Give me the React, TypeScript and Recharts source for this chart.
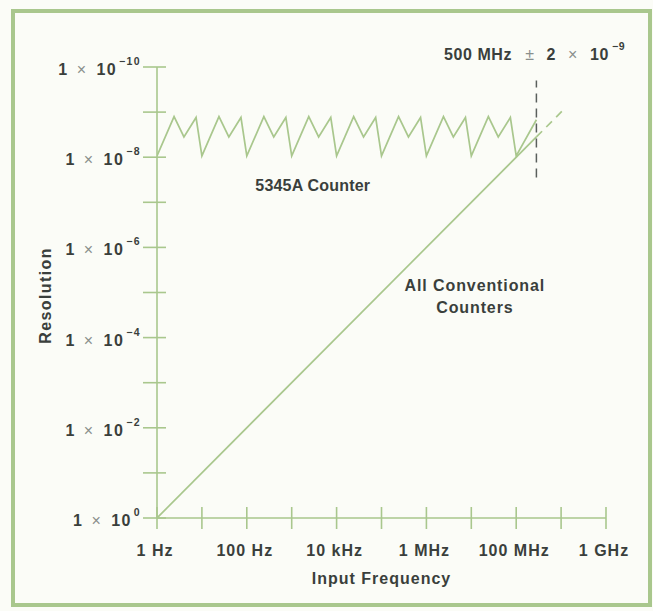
import { ComposedChart, Line, XAxis, YAxis, ReferenceDot } from "recharts";

const GREEN = "#a9c78d";
const INK = "#3a3f3c";
const SOFT = "#8a8f8c";
const FONT = "'Liberation Sans', Arial, Helvetica, sans-serif";

// x = decades above 1 Hz, y = -log10(resolution)
const decades = [0, 1, 2, 3, 4, 5, 6, 7, 8, 9, 10];
const freqLabels = ["1 Hz", "", "100 Hz", "", "10 kHz", "", "1 MHz", "", "100 MHz", "", "1 GHz"];
const resExponents = ["0", "", "\u22122", "", "\u22124", "", "\u22126", "", "\u22128", "", "\u221210"];

// 5345A counter sawtooth
const counterX = [
  0, 0.38, 0.6, 0.87, 1,
  1.38, 1.6, 1.87, 2,
  2.38, 2.6, 2.87, 3,
  3.38, 3.6, 3.87, 4,
  4.38, 4.6, 4.87, 5,
  5.38, 5.6, 5.87, 6,
  6.38, 6.6, 6.87, 7,
  7.38, 7.6, 7.87, 8,
  8.45,
];
const counterY = [
  8.03, 8.9, 8.45, 8.88, 8.03,
  8.9, 8.45, 8.88, 8.03,
  8.9, 8.45, 8.88, 8.03,
  8.9, 8.45, 8.88, 8.03,
  8.9, 8.45, 8.88, 8.03,
  8.9, 8.45, 8.88, 8.03,
  8.9, 8.45, 8.88, 8.03,
  8.9, 8.45, 8.88, 8.03,
  8.83,
];

// conventional counters: resolution = 1 / f (1 s gate)
const conventionalX = [0, 8.45];
const conventionalY = [0, 8.45];
const extrapolatedX = [8.45, 9.05];
const extrapolatedY = [8.45, 9.05];

// 500 MHz limit marker
const limitX = [8.45, 8.45];
const limitY = [7.55, 9.7];

const toPoints = (xs: number[], ys: number[]) => xs.map((x, i) => ({ x, y: ys[i] }));

const textStyle = { fontFamily: FONT, fontSize: 16, fontWeight: 700, fill: INK };

function FreqTick({ x, y, payload }: any) {
  const label = freqLabels[Math.round(payload.value)];
  return (
    <g>
      <line x1={x} x2={x} y1={y - 11} y2={y + 11} stroke={GREEN} strokeWidth={1.6} />
      {label && (
        <text x={x - 2} y={y + 38} textAnchor="middle" letterSpacing={1} {...textStyle}>
          {label}
        </text>
      )}
    </g>
  );
}

function ResTick({ x, y, payload }: any) {
  const exp = resExponents[Math.round(payload.value)];
  return (
    <g>
      <line x1={x - 14} x2={x + 9} y1={y} y2={y} stroke={GREEN} strokeWidth={1.6} />
      {exp && (
        <text x={x - 16} y={y + 8} textAnchor="end" letterSpacing={1.4} {...textStyle}>
          1
          <tspan dx={8} fontWeight={400} fill={SOFT}>×</tspan>
          <tspan dx={9}>10</tspan>
          <tspan dy={-10} dx={2} fontSize={10.5}>{exp}</tspan>
        </text>
      )}
    </g>
  );
}

const centerOf = (vb: any) => ({ cx: vb.x + vb.width / 2, cy: vb.y + vb.height / 2 });

function LimitNote({ viewBox }: any) {
  const { cx, cy } = centerOf(viewBox);
  return (
    <text x={cx} y={cy} letterSpacing={0.6} {...textStyle}>
      500 MHz
      <tspan dx={13} fontWeight={400} fill={SOFT}>±</tspan>
      <tspan dx={12}>2</tspan>
      <tspan dx={12} fontWeight={400} fill={SOFT}>×</tspan>
      <tspan dx={12}>10</tspan>
      <tspan dy={-10} dx={3} fontSize={10.5}>{"\u22129"}</tspan>
    </text>
  );
}

function CenterNote({ viewBox, lines, spacing }: any) {
  const { cx, cy } = centerOf(viewBox);
  return (
    <text x={cx} y={cy} textAnchor="middle" letterSpacing={spacing} {...textStyle}>
      {lines.map((l: string, i: number) => (
        <tspan key={i} x={cx} dy={i === 0 ? 0 : 22}>
          {l}
        </tspan>
      ))}
    </text>
  );
}

export default function App() {
  return (
    <div
      style={{
        position: "absolute",
        left: 0,
        top: 0,
        width: 653,
        height: 611,
        background: "#fbfcf7",
      }}
    >
      <div
        style={{
          position: "absolute",
          left: 11,
          top: 9,
          width: 641,
          height: 598,
          border: `4px solid ${GREEN}`,
          boxSizing: "border-box",
        }}
      />
      <ComposedChart
        width={653}
        height={611}
        margin={{ top: 67, right: 47, bottom: 0, left: 0 }}
        style={{ position: "absolute", left: 0, top: 0 }}
      >
        <XAxis
          dataKey="x"
          type="number"
          domain={[0, 10]}
          ticks={decades}
          interval={0}
          height={93}
          tickSize={0}
          tickMargin={0}
          tick={<FreqTick />}
          axisLine={{ stroke: GREEN, strokeWidth: 1.6 }}
          allowDataOverflow
          label={{
            content: ({ viewBox }: any) => (
              <text
                x={viewBox.x + viewBox.width / 2}
                y={viewBox.y + 66}
                textAnchor="middle"
                letterSpacing={1}
                {...textStyle}
              >
                Input Frequency
              </text>
            ),
          }}
        />
        <YAxis
          dataKey="y"
          type="number"
          domain={[0, 10]}
          ticks={decades}
          interval={0}
          width={157}
          tickSize={0}
          tickMargin={0}
          tick={<ResTick />}
          axisLine={{ stroke: GREEN, strokeWidth: 1.6 }}
          allowDataOverflow
          label={{
            content: ({ viewBox }: any) => {
              const lx = viewBox.x + 45;
              const ly = viewBox.y + viewBox.height / 2 + 3;
              return (
                <text
                  x={lx}
                  y={ly}
                  textAnchor="middle"
                  transform={`rotate(-90 ${lx} ${ly})`}
                  dy={6}
                  letterSpacing={1.4}
                  {...textStyle}
                >
                  Resolution
                </text>
              );
            },
          }}
        />
        <Line
          data={toPoints(conventionalX, conventionalY)}
          dataKey="y"
          type="linear"
          stroke={GREEN}
          strokeWidth={1.7}
          dot={false}
          isAnimationActive={false}
        />
        <Line
          data={toPoints(extrapolatedX, extrapolatedY)}
          dataKey="y"
          type="linear"
          stroke={GREEN}
          strokeWidth={1.7}
          strokeDasharray="8 6"
          dot={false}
          isAnimationActive={false}
        />
        <Line
          data={toPoints(counterX, counterY)}
          dataKey="y"
          type="linear"
          stroke={GREEN}
          strokeWidth={1.7}
          dot={false}
          isAnimationActive={false}
        />
        <Line
          data={toPoints(limitX, limitY)}
          dataKey="y"
          type="linear"
          stroke="#5a5f5c"
          strokeWidth={1.5}
          strokeDasharray="9 6"
          dot={false}
          isAnimationActive={false}
        />
        <ReferenceDot
          x={6.39}
          y={10.15}
          r={1}
          fill="none"
          stroke="none"
          ifOverflow="visible"
          label={<LimitNote />}
        />
        <ReferenceDot
          x={3.47}
          y={7.25}
          r={1}
          fill="none"
          stroke="none"
          ifOverflow="visible"
          label={<CenterNote lines={["5345A Counter"]} spacing={0.2} />}
        />
        <ReferenceDot
          x={7.08}
          y={5.03}
          r={1}
          fill="none"
          stroke="none"
          ifOverflow="visible"
          label={<CenterNote lines={["All Conventional", "Counters"]} spacing={0.9} />}
        />
      </ComposedChart>
    </div>
  );
}
